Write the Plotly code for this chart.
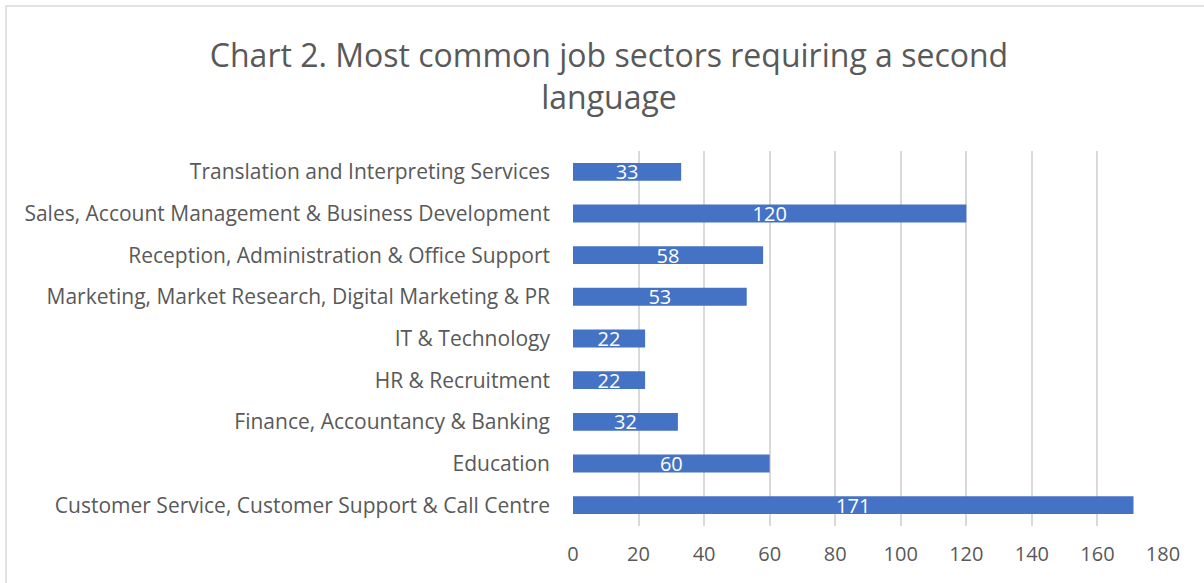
import plotly.graph_objects as go

categories = [
    "Customer Service, Customer Support & Call Centre",
    "Education",
    "Finance, Accountancy & Banking",
    "HR & Recruitment",
    "IT & Technology",
    "Marketing, Market Research, Digital Marketing & PR",
    "Reception, Administration & Office Support",
    "Sales, Account Management & Business Development",
    "Translation and Interpreting Services",
]
values = [171, 60, 32, 22, 22, 53, 58, 120, 33]
x_ticks = [0, 20, 40, 60, 80, 100, 120, 140, 160, 180]

W, H = 1204, 583
L, R, T, B = 573, 41, 151, 57
pw = W - L - R
ph = H - T - B

fig = go.Figure()
fig.add_trace(go.Bar(
    y=categories, x=values, orientation="h",
    marker=dict(color="#4472C4", line=dict(width=0)),
    text=[str(v) for v in values], textposition="inside",
    insidetextanchor="middle", textangle=0, constraintext="none",
    textfont=dict(color="white", size=20, family="Open Sans"),
    hoverinfo="x+y",
))

def px_x(p):
    return (p - L) / pw

def px_y(p):
    return (H - B - p) / ph

fig.add_shape(type="rect", xref="paper", yref="paper",
              x0=px_x(6), x1=px_x(1215), y0=px_y(595), y1=px_y(6),
              line=dict(color="#D9D9D9", width=1.5), fillcolor="rgba(0,0,0,0)", layer="below")

fig.update_layout(
    width=W, height=H,
    margin=dict(l=L, r=R, t=T, b=B),
    paper_bgcolor="white", plot_bgcolor="white",
    bargap=0.57,
    showlegend=False,
    title=dict(
        text="Chart 2. Most common job sectors requiring a second<br>language",
        x=609 / W, xanchor="center", xref="container",
        y=1 - 67 / H, yanchor="middle", yref="container",
        font=dict(family="Open Sans", size=32, color="#595959"),
    ),
    font=dict(family="Open Sans", color="#595959"),
)
fig.update_xaxes(
    range=[0, 180], tickvals=x_ticks, ticktext=[str(t) for t in x_ticks],
    showgrid=True, gridcolor="#D9D9D9", gridwidth=1.5,
    zeroline=False, showline=False, ticks="",
    tickfont=dict(size=20, color="#595959", family="Open Sans"),
    ticklabelstandoff=14,
)
fig.update_yaxes(
    categoryorder="array", categoryarray=categories,
    showgrid=False, zeroline=False, showline=False, ticks="",
    tickfont=dict(size=21, color="#595959", family="Open Sans"),
    ticklabelstandoff=22,
)

fig.write_html("out.html", config={"displayModeBar": False},
               post_script="document.body.style.margin='0';")
